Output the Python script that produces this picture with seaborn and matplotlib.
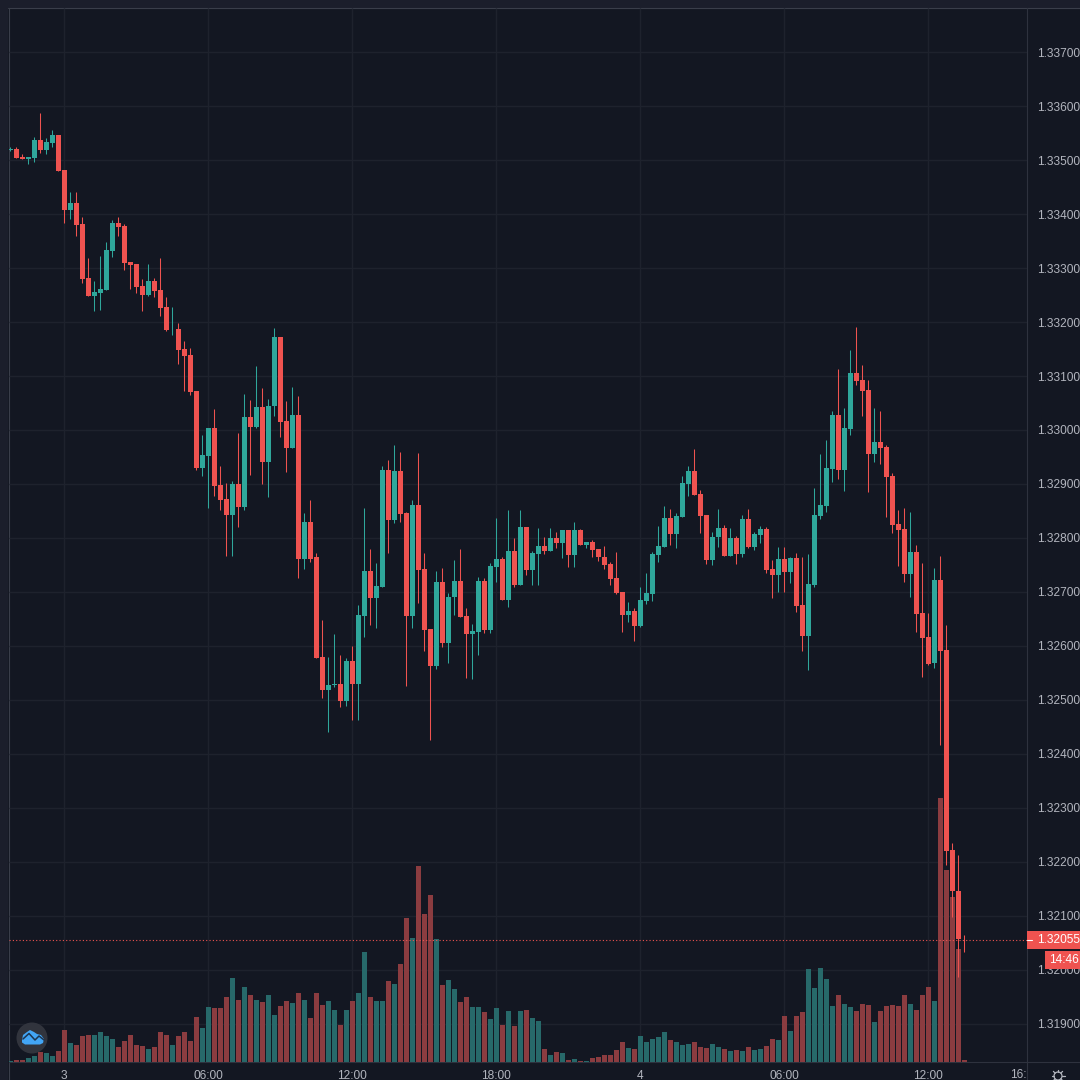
import numpy as np
import pandas as pd
import matplotlib
matplotlib.use("Agg")
import matplotlib.pyplot as plt
from matplotlib.lines import Line2D
from matplotlib.patches import Circle, Polygon, Rectangle
from matplotlib.transforms import Affine2D, Bbox
import seaborn as sns

# Prices in points (1 point = 0.00001), one candle every 15 minutes
opens = [
    133519, 133520, 133505, 133502, 133504, 133537, 133519, 133532, 133546, 133482,
    133407, 133420, 133382, 133282, 133248, 133254, 133259, 133332, 133384, 133378,
    133312, 133307, 133267, 133250, 133276, 133259, 133228, 133185, 133187, 133150,
    133139, 133073, 132930, 132952, 133004, 132898, 132872, 132843, 132900, 132857,
    133024, 133006, 133043, 132941, 133044, 133172, 133017, 132967, 133028, 132761,
    132830, 132765, 132580, 132518, 132527, 132530, 132498, 132573, 132530, 132656,
    132739, 132689, 132709, 132926, 132833, 132924, 132847, 132656, 132861, 132743,
    132631, 132563, 132718, 132606, 132691, 132721, 132656, 132622, 132626, 132720,
    132630, 132746, 132761, 132685, 132776, 132713, 132820, 132741, 132770, 132785,
    132776, 132800, 132791, 132815, 132768, 132815, 132787, 132793, 132780, 132765,
    132752, 132726, 132700, 132657, 132665, 132637, 132683, 132696, 132768, 132783,
    132837, 132807, 132839, 132900, 132924, 132881, 132843, 132759, 132802, 132818,
    132767, 132800, 132770, 132835, 132783, 132806, 132817, 132743, 132731, 132761,
    132737, 132763, 132676, 132618, 132713, 132841, 132859, 132928, 133028, 132926,
    133002, 133106, 133093, 133074, 132956, 132978, 132969, 132915, 132826, 132817,
    132733, 132774, 132661, 132617, 132569, 132722, 132593, 132222, 132147, 132056,
]
closes = [
    133520, 133504, 133502, 133505, 133537, 133519, 133533, 133546, 133480, 133407,
    133420, 133380, 133280, 133248, 133256, 133261, 133333, 133384, 133376, 133309,
    133306, 133265, 133250, 133276, 133257, 133226, 133185, 133186, 133148, 133137,
    133070, 132930, 132954, 133004, 132897, 132870, 132843, 132900, 132858, 133024,
    133006, 133043, 132941, 133044, 133172, 133015, 132967, 133028, 132761, 132830,
    132761, 132578, 132518, 132528, 132529, 132498, 132573, 132530, 132657, 132739,
    132689, 132711, 132926, 132833, 132924, 132844, 132656, 132861, 132741, 132630,
    132563, 132718, 132606, 132691, 132721, 132654, 132622, 132628, 132720, 132630,
    132748, 132761, 132685, 132776, 132713, 132820, 132741, 132772, 132785, 132776,
    132800, 132791, 132815, 132768, 132815, 132787, 132793, 132778, 132765, 132750,
    132724, 132698, 132657, 132665, 132637, 132685, 132698, 132770, 132785, 132837,
    132807, 132841, 132902, 132924, 132880, 132841, 132759, 132802, 132818, 132767,
    132800, 132770, 132835, 132783, 132807, 132817, 132741, 132731, 132761, 132737,
    132763, 132674, 132618, 132715, 132843, 132861, 132930, 133028, 132926, 133004,
    133106, 133091, 133072, 132956, 132978, 132967, 132913, 132824, 132815, 132733,
    132774, 132659, 132615, 132567, 132722, 132591, 132221, 132147, 132057, 132055,
]
highs = [
    133524, 133524, 133511, 133506, 133543, 133587, 133541, 133556, 133547, 133482,
    133441, 133441, 133394, 133319, 133276, 133322, 133349, 133388, 133394, 133382,
    133312, 133308, 133280, 133307, 133282, 133319, 133247, 133228, 133198, 133164,
    133152, 133073, 132991, 133004, 133039, 132934, 132902, 132906, 132994, 133067,
    133056, 133119, 133078, 133057, 133189, 133172, 133054, 133080, 133063, 132846,
    132870, 132772, 132648, 132580, 132622, 132583, 132578, 132600, 132675, 132856,
    132780, 132754, 132934, 132944, 132972, 132960, 132848, 132870, 132957, 132772,
    132632, 132738, 132744, 132698, 132759, 132780, 132670, 132641, 132728, 132726,
    132754, 132837, 132765, 132852, 132800, 132852, 132820, 132776, 132818, 132802,
    132818, 132811, 132815, 132815, 132830, 132816, 132793, 132796, 132780, 132785,
    132756, 132774, 132700, 132681, 132670, 132709, 132735, 132774, 132822, 132859,
    132854, 132846, 132915, 132933, 132965, 132889, 132843, 132811, 132854, 132824,
    132818, 132804, 132843, 132854, 132811, 132822, 132820, 132759, 132783, 132783,
    132765, 132772, 132765, 132770, 132893, 132956, 132981, 133035, 133113, 133041,
    133148, 133191, 133120, 133093, 133041, 133035, 132972, 132920, 132852, 132856,
    132848, 132787, 132754, 132661, 132744, 132767, 132639, 132235, 132213, 132065,
]
lows = [
    133517, 133504, 133502, 133493, 133496, 133513, 133511, 133524, 133479, 133384,
    133391, 133359, 133272, 133248, 133220, 133222, 133259, 133320, 133359, 133296,
    133261, 133254, 133221, 133248, 133247, 133211, 133183, 133176, 133122, 133073,
    133065, 132926, 132915, 132856, 132878, 132852, 132767, 132767, 132820, 132851,
    132917, 133004, 132900, 132876, 133026, 132987, 132923, 132967, 132726, 132743,
    132756, 132578, 132504, 132441, 132524, 132487, 132489, 132463, 132463, 132617,
    132639, 132633, 132709, 132772, 132828, 132830, 132525, 132633, 132680, 132591,
    132425, 132557, 132599, 132569, 132657, 132654, 132541, 132539, 132583, 132624,
    132624, 132718, 132685, 132672, 132709, 132713, 132731, 132713, 132713, 132770,
    132776, 132781, 132763, 132746, 132746, 132787, 132781, 132765, 132757, 132743,
    132713, 132696, 132626, 132644, 132609, 132635, 132678, 132683, 132756, 132783,
    132787, 132781, 132839, 132878, 132880, 132809, 132752, 132750, 132783, 132767,
    132767, 132752, 132765, 132781, 132778, 132791, 132735, 132689, 132700, 132700,
    132717, 132663, 132591, 132556, 132709, 132835, 132848, 132904, 132909, 132887,
    132991, 133083, 133026, 132885, 132941, 132937, 132839, 132809, 132748, 132718,
    132691, 132626, 132543, 132565, 132559, 132417, 132194, 132098, 131987, 132033,
]
volumes = [
    1, 2, 2, 4, 6, 10, 9, 6, 11, 32,
    19, 17, 26, 27, 27, 30, 26, 23, 15, 21,
    27, 17, 16, 13, 15, 30, 27, 17, 26, 30,
    21, 45, 34, 55, 54, 54, 65, 84, 62, 75,
    67, 62, 60, 67, 47, 56, 61, 59, 69, 62,
    44, 69, 57, 61, 52, 37, 52, 61, 69, 110,
    65, 61, 61, 81, 78, 98, 144, 124, 196, 148,
    167, 123, 77, 82, 73, 60, 65, 55, 55, 50,
    43, 54, 37, 51, 36, 51, 52, 44, 41, 13,
    7, 10, 9, 2, 3, 1, 1, 4, 5, 7,
    7, 12, 20, 14, 13, 26, 20, 23, 25, 30,
    22, 20, 17, 18, 20, 15, 14, 18, 15, 13,
    11, 12, 11, 15, 12, 13, 16, 23, 22, 46,
    31, 46, 50, 93, 74, 94, 83, 56, 67, 58,
    55, 51, 58, 57, 40, 51, 56, 57, 56, 67,
    58, 52, 67, 75, 61, 264, 192, 165, 113, 2,
]

last_price = 1.32055
countdown = "14:46"
price_ticks = [1.33700, 1.33600, 1.33500, 1.33400, 1.33300, 1.33200, 1.33100, 1.33000, 1.32900, 1.32800,
               1.32700, 1.32600, 1.32500, 1.32400, 1.32300, 1.32200, 1.32100, 1.32000, 1.31900]
time_slots = [0, 24, 48, 72, 96, 120, 144]
time_labels = ["3", "06:00", "12:00", "18:00", "4", "06:00", "12:00"]
# slot numbers counted from midnight of day 3
first_slot = -9

BG = "#131722"
OUTER = "#1b1e2b"
GRID = "#1e222d"
BORDER = "#2e323e"
TEXT = "#b2b5be"
UP = "#2fa79b"
DOWN = "#ef5350"
UP_VOL = "#27696a"
DOWN_VOL = "#8b3c40"

sns.set_theme(style="dark", rc={"axes.facecolor": BG, "figure.facecolor": OUTER})
plt.rcParams["font.family"] = ["Liberation Sans", "DejaVu Sans"]

o = np.array(opens) / 1e5
c = np.array(closes) / 1e5
h = np.array(highs) / 1e5
l = np.array(lows) / 1e5
slots = np.arange(first_slot, first_slot + len(opens))
rising = c >= o

df = pd.DataFrame({"slot": slots, "volume": volumes, "side": np.where(rising, "up", "down")})

W = 1080
fig = plt.figure(figsize=(10.8, 10.8), dpi=100)
px = Affine2D().scale(1, -1).translate(0, W)  # image pixels, origin at top left

L, R, T, B = 9, 1027, 8, 1062
rect = [L / W, 1 - B / W, (R - L) / W, (B - T) / W]
fig.add_artist(Rectangle((8, 8), W, W, transform=px, facecolor=BG, edgecolor="none", zorder=-5))

ax = fig.add_axes(rect)
ax_vol = ax.twinx()
ax.set_zorder(2)
ax_vol.set_zorder(1)
ax.patch.set_visible(False)

# volume histogram under the candles
sns.barplot(data=df, x="slot", y="volume", hue="side", hue_order=["up", "down"],
            palette={"up": UP_VOL, "down": DOWN_VOL}, native_scale=True, dodge=False,
            width=0.8, saturation=1, legend=False, linewidth=0, ax=ax_vol)

# half pixel offset so the snapped bars come out 5 px wide
ax.set_xlim((L - 64.5) / 6, (R - 64.5) / 6)
ax_vol.set_ylim(-0.5, B - T - 0.5)
ax.set_ylim(1.33 - (B - 430) * 1.852e-5, 1.33 + (430 - T) * 1.852e-5)
# lines snap to the next pixel column otherwise, nudge them back to the bar's middle
nudge = 0.08
grid_x = np.array(time_slots) - nudge

# grid goes on the lower axes so that it stays behind the bars
ax_vol.hlines(price_ticks, 0, 1, transform=ax.get_yaxis_transform(), color=GRID, lw=1, zorder=0)
ax_vol.vlines(grid_x, 0, 1, transform=ax.get_xaxis_transform(), color=GRID, lw=1, zorder=0)
ax_vol.set_xlabel("")
ax_vol.set_ylabel("")
ax_vol.set_yticks([])

# candles
colors = np.where(rising, UP, DOWN)
ax.vlines(slots - nudge, l, h, colors=colors, lw=0.75, zorder=3)
ax.bar(slots, np.abs(c - o), bottom=np.minimum(o, c), width=0.8, color=colors, linewidth=0, zorder=4)
ax.axhline(last_price, color=DOWN, lw=0.8, ls=(0, (1, 2)), zorder=5)

ax.set_yticks(price_ticks)
ax.set_yticklabels([f"{p:.5f}" for p in price_ticks], va="center_baseline")
ax.set_xticks(grid_x)
ax.set_xticklabels(time_labels)
ax.tick_params(axis="y", left=False, right=False, labelleft=False, labelright=True, pad=7.2,
               labelsize=8.6, labelcolor=TEXT, length=0)
ax.tick_params(axis="x", length=0, pad=5.8, labelsize=8.6, labelcolor=TEXT)
for a in (ax, ax_vol):
    for side in a.spines.values():
        side.set_visible(False)

# frame around the pane
for xs, ys, col in [([8, W], [8, 8], "#3a3e4a"), ([8.5, 8.5], [8, W], "#3a3e4a"),
                    ([9, W], [1061.5, 1061.5], BORDER), ([1027, 1027], [8, W], BORDER)]:
    fig.add_artist(Line2D(xs, ys, transform=px, color=col, lw=0.8, zorder=1))

# the next time label is cut off by the price scale
cut = fig.text(1025 / W, 1 - 1075 / W, "16:00", ha="center", va="center", color=TEXT, fontsize=8.6)
cut.set_clip_box(Bbox.from_extents(0, 0, 1026.5, W))
cut.set_clip_on(True)

# last price and countdown tags
fig.add_artist(Rectangle((1027, 931), 53, 18, transform=px, facecolor=DOWN, edgecolor="none", zorder=10))
fig.add_artist(Rectangle((1045, 951), 35, 18, transform=px, facecolor=DOWN, edgecolor="none", zorder=10))
fig.add_artist(Line2D([1027, 1032], [940, 940], transform=px, color="white", lw=0.8, zorder=11))
fig.text(1037 / W, 1 - 940 / W, f"{last_price:.5f}", ha="left", va="center", color="white", fontsize=8.6, zorder=11)
fig.text(1049 / W, 1 - 960 / W, countdown, ha="left", va="center", color="white", fontsize=8.6, zorder=11)

# settings gear
fig.add_artist(Circle((1058, 1076), 4, transform=px, facecolor="none", edgecolor=TEXT, lw=0.9, zorder=10))
for a in np.arange(0, 360, 45):
    dx, dy = np.cos(np.radians(a)), np.sin(np.radians(a))
    fig.add_artist(Line2D([1058 + 4 * dx, 1058 + 6.5 * dx], [1076 + 4 * dy, 1076 + 6.5 * dy],
                          transform=px, color=TEXT, lw=0.9, zorder=10))

# logo badge bottom left
fig.add_artist(Circle((32, 1038), 15.5, transform=px, facecolor="#33363f", edgecolor="none", alpha=0.95, zorder=10))
cloud = [(22, 1040), (23, 1035), (27, 1032), (30, 1030), (34, 1032), (37, 1034), (41, 1035),
         (44, 1039), (43, 1043), (40, 1044.5), (25, 1044.5), (22, 1042.5)]
fig.add_artist(Polygon(cloud, closed=True, transform=px, facecolor="#42a5f5", edgecolor="none", zorder=11))
fig.add_artist(Line2D([23, 29, 35, 39, 44], [1039, 1033.5, 1040, 1036, 1040], transform=px,
                      color="#1c3550", lw=1.1, zorder=12))

fig.savefig("out.png", dpi=100, facecolor=fig.get_facecolor())
